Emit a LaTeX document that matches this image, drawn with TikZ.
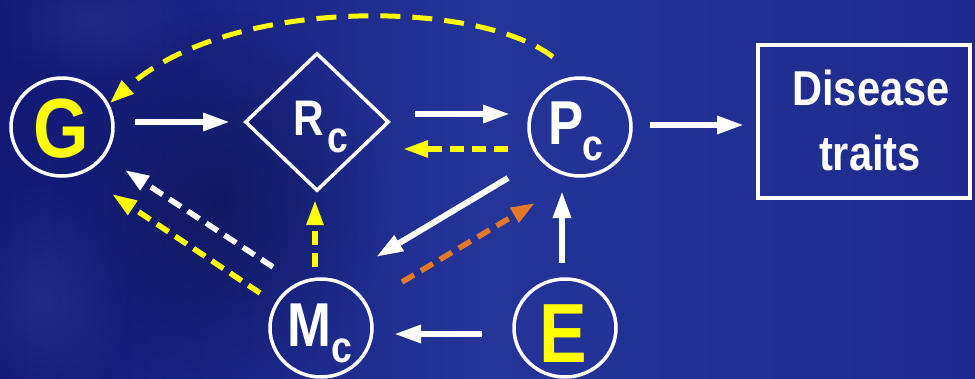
\documentclass[tikz,border=0pt]{standalone}
\usepackage{fontspec}
\setmainfont{Liberation Sans}
\usetikzlibrary{shapes.geometric,arrows.meta,fadings,calc}

\definecolor{bgA}{RGB}{18,24,116}
\definecolor{bgB}{RGB}{36,52,152}
\definecolor{bgC}{RGB}{30,42,142}
\definecolor{ylw}{RGB}{255,255,0}
\definecolor{org}{RGB}{226,120,40}

% soft radial blob for background shading
\tikzfading[name=softblob, inner color=transparent!0, outer color=transparent!100]

% bold, slightly condensed label text
\newcommand{\lbl}[2]{\scalebox{0.85}[1]{\fontsize{#1}{#1}\selectfont\bfseries #2}}

\tikzset{
  ell/.style={ellipse, draw=white, line width=3.5pt, minimum width=102pt,
              minimum height=98pt, inner sep=0pt},
  dia/.style={diamond, draw=white, line width=3.5pt, minimum width=144pt,
              minimum height=138pt, inner sep=0pt, aspect=1},
  boxnode/.style={rectangle, draw=white, line width=4pt, minimum width=212pt,
              minimum height=153pt, inner sep=0pt},
  txt/.style={inner sep=0pt, anchor=base, text=white},
  warr/.style={draw=white, line width=6pt, -{Triangle[length=27pt,width=17pt]}},
  ydash/.style={draw=ylw, line width=5.5pt, dash pattern=on 14pt off 8pt,
              -{Triangle[length=25pt,width=16pt]}},
  wdash/.style={draw=white, line width=5.5pt, dash pattern=on 14pt off 8pt,
              -{Triangle[length=24pt,width=16pt]}},
  odash/.style={draw=org, line width=5.5pt, dash pattern=on 14pt off 8pt,
              -{Triangle[length=24pt,width=16pt]}},
  yarc/.style={draw=ylw, line width=5pt, dash pattern=on 20pt off 12pt,
              -{Triangle[length=24pt,width=17pt]}},
}

\begin{document}
\begin{tikzpicture}[x=1pt,y=-1pt]
\useasboundingbox (0,0) rectangle (975,378);

% background
\shade[left color=bgA, right color=bgC, middle color=bgB] (0,0) rectangle (975,378);
\fill[bgA!65!black, path fading=softblob, opacity=0.6] (220,200) ellipse [x radius=170pt, y radius=190pt];
\fill[bgB!80!white, path fading=softblob, opacity=0.25] (40,300) ellipse [x radius=90pt, y radius=120pt];
\fill[bgB!80!white, path fading=softblob, opacity=0.2] (90,20) ellipse [x radius=110pt, y radius=60pt];

% shapes
\node[ell] (G) at (62,127) {};
\node[dia] (Rc) at (317,122) {};
\node[ell] (Pc) at (580,127) {};
\node[ell] (Mc) at (321,328) {};
\node[ell] (E) at (565,328) {};
\node[boxnode] (D) at (864,121.5) {};

% labels
\node[txt, text=ylw] (Gt) at (61,157) {\lbl{84}{G}};
\node[txt] (Rt) at (309,135) {\lbl{50}{R}};
\node[txt] (Rs) at (338,152) {\lbl{44}{c}};
\node[txt] (Mt) at (309,346) {\lbl{62}{M}};
\node[txt] (Ms) at (341.5,362) {\lbl{44}{c}};
\node[txt] (Pt) at (566,144) {\lbl{62}{P}};
\node[txt] (Ps) at (593,160) {\lbl{44}{c}};
\node[txt, text=ylw] (Et) at (563,362) {\lbl{84}{E}};
\node[txt] (D1) at (871,105) {\lbl{49}{Disease}};
\node[txt] (D2) at (870,170) {\lbl{49}{traits}};

% connectors
\draw[warr] ($(G)+(73,-5)$) -- ($(Rc)+(-87,0)$);
\draw[warr] ($(Rc)+(98,-8)$) -- ($(Pc)+(-70,-13)$);
\draw[ydash] ($(Pc)+(-72,22)$) -- ($(Rc)+(86,27)$);
\draw[warr] ($(Pc)+(70,-2)$) -- ($(D.west)+(-12,3.5)$);
\draw[warr] ($(Pc)+(-72,51)$) -- ($(Mc)+(55,-71)$);
\draw[odash] ($(Mc)+(81,-46)$) -- ($(Pc)+(-45,76)$);
\draw[warr] ($(E)+(-3,-65)$) -- ($(Pc)+(-18,64)$);
\draw[warr] ($(E)+(-83,6)$) -- ($(Mc)+(73,6)$);
\draw[ydash] ($(Mc)+(-6,-61)$) -- ($(Rc)+(-2,78)$);
\draw[wdash] ($(Mc)+(-48,-61)$) -- ($(G)+(63,43)$);
\draw[ydash] ($(Mc)+(-61,-35)$) -- ($(G)+(50,67)$);
\draw[yarc] ($(Pc)+(-27,-70)$) .. controls ($(Pc)+(-100,-127)$) and ($(G)+(168,-132)$) .. ($(G)+(48,-24)$);
\end{tikzpicture}
\end{document}
